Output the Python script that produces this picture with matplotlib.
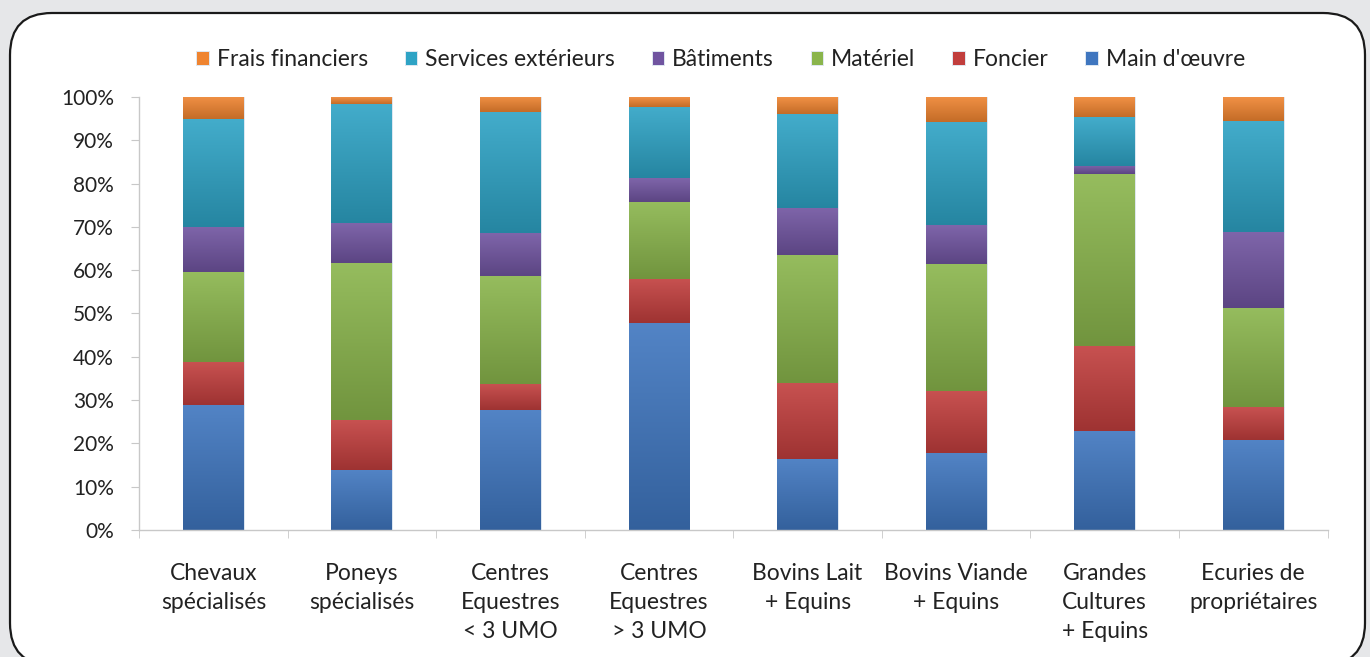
import numpy as np
import matplotlib.pyplot as plt
from matplotlib.patches import FancyBboxPatch
from matplotlib.ticker import FixedLocator
from matplotlib.colors import to_rgb

plt.rcParams['font.family'] = ['Lato', 'DejaVu Sans']

categories = ["Chevaux\nspécialisés", "Poneys\nspécialisés", "Centres\nEquestres\n< 3 UMO",
              "Centres\nEquestres\n> 3 UMO", "Bovins Lait\n+ Equins", "Bovins Viande\n+ Equins",
              "Grandes\nCultures\n+ Equins", "Ecuries de\npropriétaires"]

main_oeuvre = [28.9, 13.9, 27.7, 47.8, 16.4, 17.8, 22.9, 20.8]
foncier = [9.9, 11.5, 6.0, 10.2, 17.5, 14.3, 19.6, 7.6]
materiel = [20.8, 36.3, 25.0, 17.8, 29.6, 29.3, 39.7, 22.9]
batiments = [10.4, 9.2, 9.9, 5.5, 10.9, 9.0, 1.9, 17.5]
services = [24.9, 27.5, 27.9, 16.4, 21.7, 23.8, 11.3, 25.7]
frais = [5.1, 1.6, 3.5, 2.3, 3.9, 5.8, 4.6, 5.5]

series = [
    ("Main d'œuvre", main_oeuvre, "#3f76bf"),
    ("Foncier", foncier, "#c13e3d"),
    ("Matériel", materiel, "#8ab54c"),
    ("Bâtiments", batiments, "#7054a0"),
    ("Services extérieurs", services, "#2ea3c5"),
    ("Frais financiers", frais, "#ef8430"),
]

fig = plt.figure(figsize=(13.7, 6.57), dpi=100, facecolor="#e6e7e9")

# white rounded frame
frame = FancyBboxPatch((0.10, -0.08), 13.55, 6.52, boxstyle="round,pad=0,rounding_size=0.42",
                       transform=fig.dpi_scale_trans, facecolor="white", edgecolor="#1a1a1a",
                       linewidth=1.6, zorder=-10)
fig.patches.append(frame)

ax = fig.add_axes([0.1015, 0.1933, 0.8675, 0.6591])
ax.set_facecolor("none")

x = np.arange(len(categories))
totals = np.sum([s[1] for s in series], axis=0)
bottom = np.zeros(len(categories))
handles = {}
for name, vals, col in series:
    pct = np.array(vals) / totals * 100
    b = ax.bar(x, pct, 0.41, bottom=bottom, color=col, edgecolor="#dfe8f2", linewidth=0.7, label=name)
    handles[name] = b
    # excel-2007 like shading: lighter at top, darker at bottom of each segment
    c = np.array(to_rgb(col))
    top_c = c + (1 - c) * 0.10
    bot_c = c * 0.82
    grad = np.linspace(0, 1, 64)[:, None, None]
    img = bot_c * (1 - grad) + top_c * grad
    for rect in b:
        x0, y0 = rect.get_x(), rect.get_y()
        w, h = rect.get_width(), rect.get_height()
        im = ax.imshow(img, extent=(x0, x0 + w, y0, y0 + h), origin="lower", aspect="auto",
                       zorder=rect.get_zorder() + 0.1, interpolation="bilinear")
        im.set_clip_path(rect)
    bottom += pct

ax.set_xlim(-0.5, len(categories) - 0.5)
ax.set_ylim(0, 100)
ax.set_yticks(np.arange(0, 101, 10))
ax.set_yticklabels([f"{v}%" for v in range(0, 101, 10)], fontsize=15, color="#222222")
ax.set_xticks(x)
ax.set_xticklabels(categories, fontsize=16.5, color="#222222", linespacing=1.45, va="top")
ax.xaxis.set_minor_locator(FixedLocator(np.arange(-0.5, len(categories), 1)))
ax.tick_params(axis="x", which="major", length=0, pad=24)
ax.tick_params(axis="x", which="minor", length=6, color="#c8c8c8", direction="out")
ax.tick_params(axis="y", length=6, color="#c8c8c8", direction="out", pad=12)
for s in ["top", "right"]:
    ax.spines[s].set_visible(False)
for s in ["left", "bottom"]:
    ax.spines[s].set_color("#c8c8c8")
    ax.spines[s].set_linewidth(1.0)

order = ["Frais financiers", "Services extérieurs", "Bâtiments", "Matériel", "Foncier", "Main d'œuvre"]
fig.legend([handles[n] for n in order], order, loc="center", bbox_to_anchor=(0.526, 0.909), ncol=6,
           frameon=False, fontsize=16.5, handlelength=0.55, handleheight=0.55, handletextpad=0.35,
           columnspacing=1.6, labelcolor="#222222")

fig.savefig("out.png", dpi=100, facecolor=fig.get_facecolor())
